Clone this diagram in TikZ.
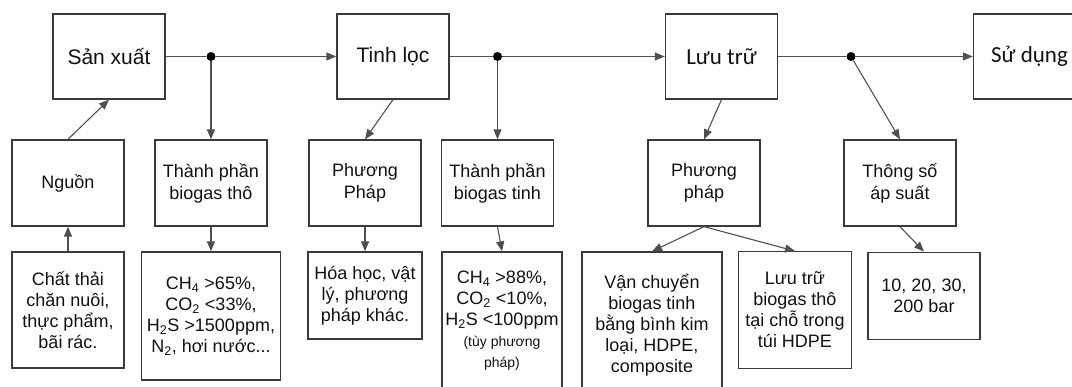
\documentclass[tikz,border=0pt]{standalone}
\usepackage{fontspec}
\setmainfont{Liberation Sans}
\newfontfamily\calibrifont{Carlito}
\usetikzlibrary{arrows.meta}
\definecolor{boxline}{HTML}{3A3A3A}
\definecolor{conline}{HTML}{505050}
\definecolor{txt}{HTML}{111111}
\begin{document}
\begin{tikzpicture}[x=1pt,y=-1pt,
  blk/.style={draw=boxline, line width=1.3pt, text=txt, align=center, inner sep=0pt,
    minimum width=112pt, minimum height=85pt, font=\fontsize{21}{25}\selectfont},
  calib/.style={font=\calibrifont\fontsize{23}{27}\selectfont},
  mid/.style={blk, minimum height=86pt, font=\fontsize{18}{22}\selectfont},
  low/.style={blk, font=\fontsize{18}{21}\selectfont},
  lin/.style={draw=conline, line width=1.1pt},
  arr/.style={lin, -{Triangle[length=10pt,width=8pt]}},
  dot/.style={circle, fill=black, inner sep=0pt, minimum size=9pt}]
\useasboundingbox (0,0) rectangle (1072,387);
\clip (0,0) rectangle (1072,387);
\node[blk] (sx) at (109,56.5){Sản xuất};
\node[blk] (tl) at (393,56.5){Tinh lọc};
\node[blk, calib] (lt) at (721.5,56.5){Lưu trữ};
\node[blk, calib] (sd) at (1029.5,56.5){Sử dụng};
\node[dot] (d1) at (211,56.5){};
\node[dot] (d2) at (497.5,56.5){};
\node[dot] (d3) at (851,56.5){};
\node[mid] (ng) at (68,183){Nguồn};
\node[mid] (tpt) at (211,183){Thành phần\\biogas thô};
\node[mid] (ppt) at (365,183){Phương\\Pháp};
\node[mid] (tpn) at (497.5,183){Thành phần\\biogas tinh};
\node[mid] (ppl) at (704,183){Phương\\pháp};
\node[mid] (ts) at (900,183){Thông số\\áp suất};
\node[low, minimum height=116pt] (ct) at (68,310){Chất thải\\chăn nuôi,\\thực phẩm,\\bãi rác.};
\node[low, minimum width=139.5pt, minimum height=128pt] (c65) at (211,316){CH\textsubscript{4} >65\%,\\CO\textsubscript{2} <33\%,\\H\textsubscript{2}S >1500ppm,\\N\textsubscript{2}, hơi nước...};
\node[low, minimum width=114pt, minimum height=87pt] (hh) at (365,295.5){Hóa học, vật\\lý, phương\\pháp khác.};
\node[low, minimum width=120pt, minimum height=138pt] (c88) at (502,321){CH\textsubscript{4} >88\%,\\CO\textsubscript{2} <10\%,\\H\textsubscript{2}S <100ppm\\\fontsize{14}{21}\selectfont(tùy phương\\\fontsize{14}{21}\selectfont pháp)};
\node[low, minimum width=140pt, minimum height=146pt] (vc) at (652,325){Vận chuyển\\biogas tinh\\bằng bình kim\\loại, HDPE,\\composite};
\node[low, minimum width=112.5pt, minimum height=116.5pt] (lth) at (795,310){Lưu trữ\\biogas thô\\tại chỗ trong\\túi HDPE};
\node[low, minimum height=87.5pt] (bar) at (924,296){10, 20, 30,\\200 bar};
\draw[lin] (sx) -- (d1);
\draw[arr] (d1) -- (tl);
\draw[lin] (tl) -- (d2);
\draw[arr] (d2) -- (lt);
\draw[lin] (lt) -- (d3);
\draw[arr] (d3) -- (sd);
\draw[arr] (ng.north) -- (sx.south);
\draw[arr] (ct.north) -- (ng.south);
\draw[arr] (d1) -- (tpt.north);
\draw[arr] (tpt.south) -- (c65.north);
\draw[arr] (tl.south) -- (ppt.north);
\draw[arr] (ppt.south) -- (hh.north);
\draw[arr] (d2) -- (tpn.north);
\draw[arr] (tpn.south) -- (c88.north);
\draw[arr] (lt.south) -- (ppl.north);
\draw[arr] (d3) -- (ts.north);
\draw[arr] (ppl.south) -- (vc.north);
\draw[arr] (ppl.south) -- (lth.north);
\draw[arr] (ts.south) -- (bar.north);
\end{tikzpicture}
\end{document}
